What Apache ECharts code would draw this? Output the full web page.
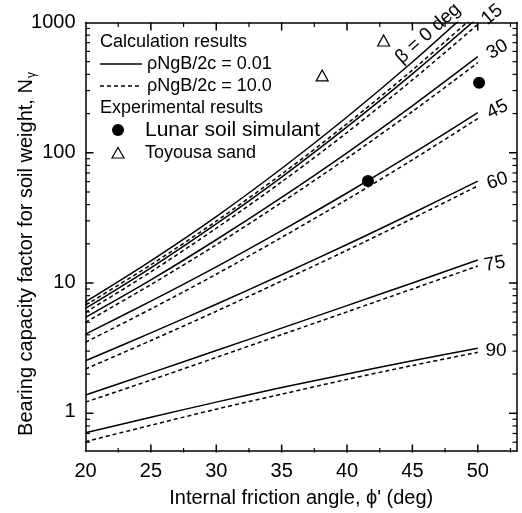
<!DOCTYPE html>
<html>
<head>
<meta charset="utf-8">
<script src="https://cdn.jsdelivr.net/npm/echarts@6/dist/echarts.min.js"></script>
<style>
  html, body { margin: 0; padding: 0; background: #fff; }
  #chart { width: 522px; height: 513px; }
</style>
</head>
<body>
<div id="chart"></div>
<script>
// Internal friction angle (deg) at which each curve is sampled
const phi = [20, 25, 30, 35, 40, 45, 50];

// Bearing capacity factor N_gamma, solid: rhoNgB/2c = 0.01, dashed: rhoNgB/2c = 10.0
const beta0Solid   = [7.05, 14.6, 32.0, 75.0, 187, 496, 1403];
const beta0Dashed  = [6.65, 13.6, 29.5, 67.9, 166, 430, 1186];
const beta15Solid  = [6.28, 12.9, 28.1, 64.5, 157, 402, 1089];
const beta15Dashed = [5.85, 12.0, 26.0, 59.2, 142, 361, 966];
const beta30Solid  = [5.35, 10.4, 21.2, 45.0, 99.2, 228, 545];
const beta30Dashed = [4.90, 9.57, 19.4, 41.1, 90.2, 206, 490];
const beta45Solid  = [3.98, 7.13, 13.1, 24.9, 48.6, 97.6, 202];
const beta45Dashed = [3.44, 6.21, 11.5, 22.1, 43.3, 87.5, 182];
const beta60Solid  = [2.48, 4.06, 6.75, 11.4, 19.5, 33.9, 60.0];
const beta60Dashed = [2.14, 3.55, 5.96, 10.2, 17.6, 30.9, 55.1];
const beta75Solid  = [1.35, 2.00, 2.97, 4.42, 6.59, 9.85, 14.8];
const beta75Dashed = [1.19, 1.76, 2.63, 3.94, 5.90, 8.86, 13.3];
const beta90Solid  = [0.69, 0.91, 1.19, 1.54, 1.96, 2.48, 3.09];
const beta90Dashed = [0.59, 0.79, 1.05, 1.37, 1.78, 2.28, 2.88];

// Experimental results: [phi', N_gamma]
const lunarSoil = [[41.6, 60], [50.1, 344]];
const toyouraSand = [[38.1, 391], [42.8, 727]];

// Frame tick values
const xMajorTicks = [25, 30, 35, 40, 45, 50];
const xMinorTicks = [22.5, 27.5, 32.5, 37.5, 42.5, 47.5, 52.5];
const yMajorTicks = [1, 10, 100];
const yMinorTicks = [0.6, 0.7, 0.8, 0.9,
  2, 3, 4, 5, 6, 7, 8, 9,
  20, 30, 40, 50, 60, 70, 80, 90,
  200, 300, 400, 500, 600, 700, 800, 900];

// Curve labels (beta)
const curveLabelText = ['\u03b2 = 0 deg', '15', '30', '45', '60', '75', '90'];

// Where each curve label sits in data space, and its tilt
const curveLabelPlace = [
  { at: [46.2, 823], rotate: 42 },
  { at: [51.1, 1150], rotate: 40 },
  { at: [51.5, 620], rotate: 32 },
  { at: [51.5, 214], rotate: 26 },
  { at: [51.5, 60], rotate: 18 },
  { at: [51.3, 13.8], rotate: 10 },
  { at: [51.4, 2.96], rotate: 0 }
];

const FONT = 'Liberation Sans, Arial, sans-serif';
const X_MIN = 20, X_MAX = 53, Y_MIN = 0.5, Y_MAX = 1000;
const GRID = { left: 85.5, right: 5, top: 22.5, bottom: 60.5 };
const CHART_W = 522, CHART_H = 513;
const PLOT_W = CHART_W - GRID.left - GRID.right;
const PLOT_H = CHART_H - GRID.top - GRID.bottom;

// grid mapping used for the inward frame ticks (linear x, log10 y)
function tickX(x) { return GRID.left + (x - X_MIN) / (X_MAX - X_MIN) * PLOT_W; }
function tickY(y) {
  return GRID.top + (Math.log10(Y_MAX) - Math.log10(y)) /
    (Math.log10(Y_MAX) - Math.log10(Y_MIN)) * PLOT_H;
}

const tickGraphics = [];
function addTicks(xs, ys, len, width) {
  const left = GRID.left, right = CHART_W - GRID.right;
  const top = GRID.top, bottom = CHART_H - GRID.bottom;
  const seg = (x1, y1, x2, y2) => tickGraphics.push({
    type: 'line', silent: true, z: 100,
    shape: { x1: x1, y1: y1, x2: x2, y2: y2 },
    style: { stroke: '#000', lineWidth: width }
  });
  xs.forEach(x => {
    const X = tickX(x);
    seg(X, bottom, X, bottom - len);
    seg(X, top, X, top + len);
  });
  ys.forEach(y => {
    const Y = tickY(y);
    seg(left, Y, left + len, Y);
    seg(right, Y, right - len, Y);
  });
}
addTicks(xMajorTicks, yMajorTicks, 8, 1.5);
addTicks(xMinorTicks, yMinorTicks, 4.5, 1.2);

function pairs(ys) { return phi.map((p, i) => [p, ys[i]]); }

const curves = [
  ['0', beta0Solid, beta0Dashed],
  ['15', beta15Solid, beta15Dashed],
  ['30', beta30Solid, beta30Dashed],
  ['45', beta45Solid, beta45Dashed],
  ['60', beta60Solid, beta60Dashed],
  ['75', beta75Solid, beta75Dashed],
  ['90', beta90Solid, beta90Dashed]
];

const series = [];
curves.forEach(([b, solid, dashed]) => {
  series.push({
    name: 'beta ' + b + ' (0.01)', type: 'line', data: pairs(solid),
    showSymbol: false, smooth: 0.3, silent: true,
    lineStyle: { color: '#000', width: 1.5, type: 'solid' }
  });
  series.push({
    name: 'beta ' + b + ' (10.0)', type: 'line', data: pairs(dashed),
    showSymbol: false, smooth: 0.3, silent: true,
    lineStyle: { color: '#000', width: 1.5, type: [4, 3] }
  });
});

series.push({
  name: 'Lunar soil simulant', type: 'scatter', data: lunarSoil,
  symbol: 'circle', symbolSize: 12, clip: false,
  itemStyle: { color: '#000', opacity: 1 }
});
series.push({
  name: 'Toyousa sand', type: 'scatter', data: toyouraSand,
  symbol: 'triangle', symbolSize: [12, 11], clip: false,
  itemStyle: { color: '#fff', borderColor: '#000', borderWidth: 1.2, opacity: 1 }
});

// beta labels next to the curve ends
series.push({
  name: 'beta labels', type: 'scatter', symbolSize: 1, clip: false, silent: true,
  itemStyle: { opacity: 0 },
  data: curveLabelPlace.map((p, i) => ({
    value: p.at,
    label: { show: true, formatter: curveLabelText[i], rotate: p.rotate }
  })),
  label: { position: 'inside', color: '#000', opacity: 1, fontFamily: FONT, fontSize: 19 }
});

const axisLine = { show: true, onZero: false, lineStyle: { color: '#000', width: 1.5 } };

const chart = echarts.init(document.getElementById('chart'));

const legendX = 100;
const option = {
  animation: false,
  grid: GRID,
  xAxis: [
    {
      type: 'value', min: X_MIN, max: X_MAX, interval: 5, position: 'bottom',
      axisLine: axisLine, axisTick: { show: false }, minorTick: { show: false },
      splitLine: { show: false },
      axisLabel: {
        color: '#000', fontFamily: FONT, fontSize: 20, margin: 10,
        showMaxLabel: false
      },
      name: 'Internal friction angle, \u03d5\' (deg)', nameLocation: 'middle', nameGap: 37,
      nameTextStyle: { color: '#000', fontFamily: FONT, fontSize: 20 }
    },
    {
      type: 'value', min: X_MIN, max: X_MAX, interval: 5, position: 'top',
      axisLine: axisLine, axisTick: { show: false },
      splitLine: { show: false }, axisLabel: { show: false }
    }
  ],
  yAxis: [
    {
      type: 'log', min: Y_MIN, max: Y_MAX, position: 'left',
      axisLine: axisLine, axisTick: { show: false },
      splitLine: { show: false },
      axisLabel: {
        color: '#000', fontFamily: FONT, fontSize: 20, margin: 10,
        showMinLabel: false,
        formatter: v => String(Math.round(v))
      }
    },
    {
      type: 'log', min: Y_MIN, max: Y_MAX, position: 'right',
      axisLine: axisLine, axisTick: { show: false },
      splitLine: { show: false }, axisLabel: { show: false }
    }
  ],
  series: series,
  graphic: [
    {
      type: 'text', x: 26, y: 254, rotation: Math.PI / 2,
      style: {
        text: '{m|Bearing capacity factor for soil weight, N}{s|\u03b3}',
        align: 'center', verticalAlign: 'middle', fill: '#000',
        rich: {
          m: { fontFamily: FONT, fontSize: 20, fill: '#000' },
          s: { fontFamily: FONT, fontSize: 12, fill: '#000', padding: [12, 0, 0, 1] }
        }
      }
    },
    // legend block
    { type: 'text', x: legendX, y: 42, style: { text: 'Calculation results', font: '18px ' + FONT, fill: '#000', verticalAlign: 'middle' } },
    { type: 'line', shape: { x1: legendX, y1: 64, x2: 142, y2: 64 }, style: { stroke: '#000', lineWidth: 1.5 } },
    { type: 'text', x: 147, y: 64, style: { text: '\u03c1NgB/2c = 0.01', font: '18px ' + FONT, fill: '#000', verticalAlign: 'middle' } },
    { type: 'line', shape: { x1: legendX, y1: 86, x2: 142, y2: 86 }, style: { stroke: '#000', lineWidth: 1.5, lineDash: [4, 3] } },
    { type: 'text', x: 147, y: 86, style: { text: '\u03c1NgB/2c = 10.0', font: '18px ' + FONT, fill: '#000', verticalAlign: 'middle' } },
    { type: 'text', x: legendX, y: 108, style: { text: 'Experimental results', font: '18px ' + FONT, fill: '#000', verticalAlign: 'middle' } },
    { type: 'circle', shape: { cx: 118, cy: 130, r: 6 }, style: { fill: '#000' } },
    { type: 'text', x: 145, y: 130, style: { text: 'Lunar soil simulant', font: '21px ' + FONT, fill: '#000', verticalAlign: 'middle' } },
    { type: 'polygon', shape: { points: [[118, 147.5], [124, 158], [112, 158]] }, style: { fill: '#fff', stroke: '#000', lineWidth: 1.2 } },
    { type: 'text', x: 145, y: 153, style: { text: 'Toyousa sand', font: '18px ' + FONT, fill: '#000', verticalAlign: 'middle' } }
  ].concat(tickGraphics)
};

chart.setOption(option);
</script>
</body>
</html>
